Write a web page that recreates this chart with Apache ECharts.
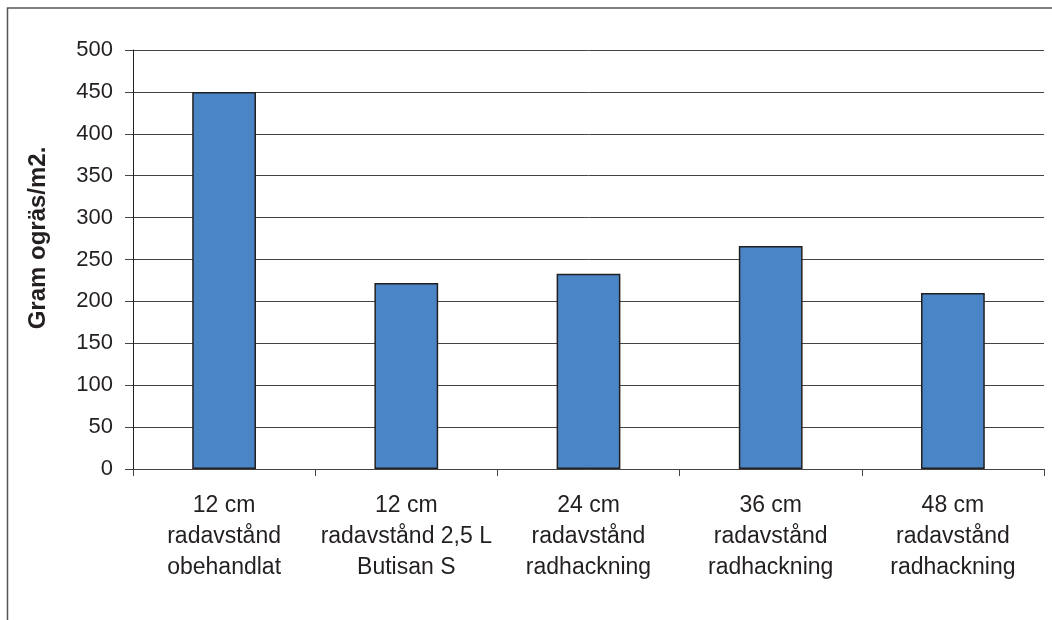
<!DOCTYPE html>
<html>
<head>
<meta charset="utf-8">
<script src="https://cdn.jsdelivr.net/npm/echarts@6/dist/echarts.min.js"></script>
<style>
  html, body { margin: 0; padding: 0; background: #fff; }
  #chart { width: 1052px; height: 620px; }
</style>
</head>
<body>
<div id="chart"></div>
<script>
// Weed biomass per row spacing / treatment
const categories = [
  '12 cm\nradavstånd\nobehandlat',
  '12 cm\nradavstånd 2,5 L\nButisan S',
  '24 cm\nradavstånd\nradhackning',
  '36 cm\nradavstånd\nradhackning',
  '48 cm\nradavstånd\nradhackning'
];
const weedGrams = [450, 222, 233, 266, 210];
const yTicks = { min: 0, max: 500, step: 50 };
const yTitle = 'Gram ogräs/m2.';

const FONT = 'Arial, "Liberation Sans", sans-serif';
const TEXT = '#231f20';

const chart = echarts.init(document.getElementById('chart'), null, { renderer: 'canvas' });

chart.setOption({
  backgroundColor: '#ffffff',
  animation: false,
  grid: { left: 133, right: 8, top: 50, bottom: 151, containLabel: false },
  graphic: [
    {
      type: 'rect',
      shape: { x: 7.5, y: 8, width: 1200, height: 800 },
      style: { fill: 'none', stroke: '#555', lineWidth: 1.5 },
      silent: true
    },
    {
      type: 'text',
      x: 38, y: 238,
      rotation: Math.PI / 2,
      style: {
        text: yTitle,
        fontFamily: FONT,
        fontWeight: 'bold',
        fontSize: 24,
        fill: TEXT,
        align: 'center',
        verticalAlign: 'middle'
      }
    }
  ],
  xAxis: {
    type: 'category',
    data: categories,
    boundaryGap: true,
    axisLine: { show: true, lineStyle: { color: '#444', width: 1 } },
    axisTick: { show: true, length: 7, lineStyle: { color: '#444', width: 1 } },
    axisLabel: {
      interval: 0,
      margin: 21,
      fontFamily: FONT,
      fontSize: 23,
      lineHeight: 31,
      color: TEXT,
      align: 'center'
    },
    splitLine: { show: false }
  },
  yAxis: {
    type: 'value',
    min: yTicks.min,
    max: yTicks.max,
    interval: yTicks.step,
    axisLine: { show: true, lineStyle: { color: '#222', width: 1 } },
    axisTick: { show: true, inside: false, length: 8, lineStyle: { color: '#444', width: 1 } },
    axisLabel: {
      margin: 20,
      fontFamily: FONT,
      fontSize: 22,
      color: TEXT
    },
    splitLine: { show: true, lineStyle: { color: '#444', width: 1 } }
  },
  series: [{
    type: 'bar',
    data: weedGrams,
    barWidth: '35%',
    itemStyle: {
      color: '#4a86c5',
      borderColor: '#231f20',
      borderWidth: 1.5
    }
  }]
});
</script>
</body>
</html>
